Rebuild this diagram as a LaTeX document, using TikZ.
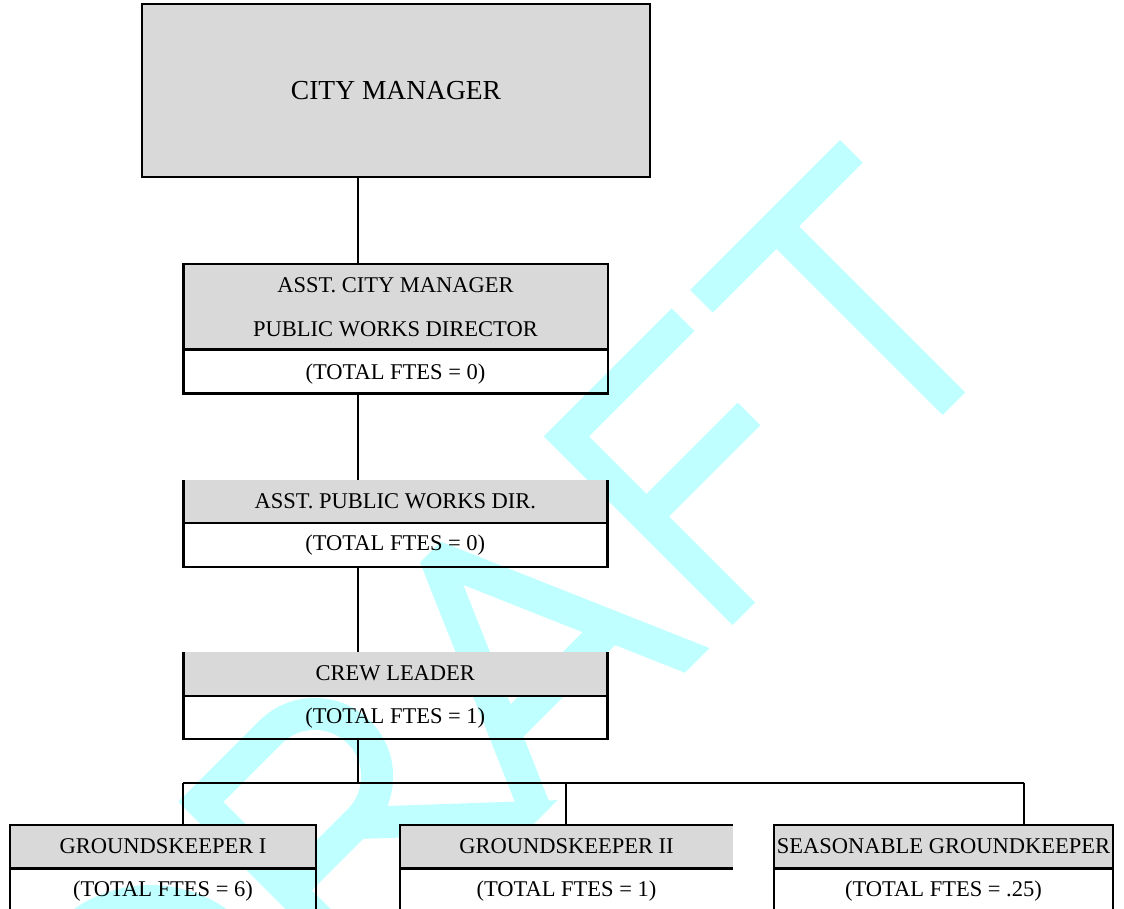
\documentclass[tikz,border=0pt]{standalone}
\usepackage{fontspec}
\setmainfont{Liberation Serif}
\definecolor{wm}{RGB}{192,255,255}
\definecolor{hdr}{RGB}{217,217,217}
\newcommand\orgsmall{\fontsize{22.5pt}{27pt}\selectfont}
\newcommand\orgbig{\fontsize{27.5pt}{33pt}\selectfont}
\tikzset{
  cell/.style={rectangle, inner sep=0pt, outer sep=0pt},
  hdrcell/.style={cell, fill=hdr},
  lbl/.style={inner sep=0pt, font=\orgsmall, text height=14.9pt, text depth=0pt},
  biglbl/.style={inner sep=0pt, font=\orgbig, text height=18.2pt, text depth=0pt},
  border/.style={line width=2.4pt, draw=black},
  link/.style={line width=2pt, draw=black},
  wmstroke/.style={draw=wm, line width=32pt, line cap=butt, line join=miter},
}
\begin{document}
\begin{tikzpicture}[x=1pt,y=-1pt]
\useasboundingbox (0,0) rectangle (1124,909);
\clip (0,0) rectangle (1124,909);
% ---------- watermark DRAFT ----------
\begin{scope}[x={(0.7071pt,0.7071pt)}, y={(-0.7071pt,0.7071pt)}]
  \clip (-900,-960) -- (600,-960) -- (600,-693) -- (-900,-693) -- cycle;
  % D
  \draw[wmstroke] (-760,-709) -- (-614,-709) arc[start angle=90,end angle=-90,radius=117.5] -- (-760,-944) -- cycle;
  % R
  \draw[wmstroke] (-425,-990) -- (-425,-709) -- (-326.5,-709) arc[start angle=90,end angle=-90,radius=62.5] -- (-425,-834);
  \draw[wmstroke] (-330,-834) -- (-162.9,-990);
  % A
  \draw[wmstroke, line join=bevel] (-211,-990) -- (-86,-701) -- (39,-990);
  \draw[wmstroke] (-161.3,-875) -- (-10.7,-875);
  % F
  \draw[wmstroke] (92,-990) -- (92,-709) -- (257,-709);
  \draw[wmstroke] (92,-822.4) -- (237,-822.4);
  % T
  \draw[wmstroke] (283,-709) -- (495,-709);
  \draw[wmstroke] (389,-709) -- (389,-990);
\end{scope}
% ---------- cells ----------
\node[hdrcell, minimum width=508pt, minimum height=173pt] (cm) at (396,90.5) {};
\node[hdrcell, minimum width=424.4pt, minimum height=85.3pt] (h2) at (395.5,306.65) {};
\node[cell, minimum width=424.4pt, minimum height=44pt] (b2) at (395.5,371.3) {};
\node[hdrcell, minimum width=424pt, minimum height=42.7pt] (h3) at (395.3,501.35) {};
\node[cell, minimum width=424pt, minimum height=44pt] (b3) at (395.3,544.7) {};
\node[hdrcell, minimum width=424pt, minimum height=43.4pt] (h4) at (395.3,674) {};
\node[cell, minimum width=424pt, minimum height=43.3pt] (b4) at (395.3,717.35) {};
\node[hdrcell, minimum width=306pt, minimum height=43.3pt] (g1h) at (163,846.65) {};
\node[cell, minimum width=306pt, minimum height=44pt] (g1b) at (163,890.3) {};
\node[hdrcell, minimum width=332.7pt, minimum height=43.3pt] (g2h) at (566.35,846.65) {};
\node[cell, minimum width=332.7pt, minimum height=44pt] (g2b) at (566.35,890.3) {};
\node[hdrcell, minimum width=338.7pt, minimum height=43.3pt] (g3h) at (943.35,846.65) {};
\node[cell, minimum width=338.7pt, minimum height=44pt] (g3b) at (943.35,890.3) {};
% ---------- borders ----------
\draw[border] (cm.north west) rectangle (cm.south east);
\draw[border] (h2.north west) rectangle (b2.south east);
\draw[border] (h2.south west) -- (h2.south east);
\draw[border] (h3.north west) -- (b3.south west) -- (b3.south east) -- (h3.north east);
\draw[border] (h3.south west) -- (h3.south east);
\draw[border] (h4.north west) -- (b4.south west) -- (b4.south east) -- (h4.north east);
\draw[border] (h4.south west) -- (h4.south east);
\draw[border] (g1b.south west) -- (g1h.north west) -- (g1h.north east) -- (g1b.south east);
\draw[border] (g1h.south west) -- (g1h.south east);
\draw[border] (g2b.south west) -- (g2h.north west) -- (g2h.north east);
\draw[border] (g2h.south west) -- (g2h.south east);
\draw[border] (g3b.south west) -- (g3h.north west) -- (g3h.north east) -- (g3b.south east);
\draw[border] (g3h.south west) -- (g3h.south east);
% ---------- connectors ----------
\coordinate (spine) at (358.3,0);
\coordinate (bus) at (358.3,782.5);
\coordinate (d1) at (183.3,782.5);
\coordinate (d2) at (566,782.5);
\coordinate (d3) at (1024,782.5);
\draw[link] (cm.south -| spine) -- (h2.north -| spine);
\draw[link] (b2.south -| spine) -- (h3.north -| spine);
\draw[link] (b3.south -| spine) -- (h4.north -| spine);
\draw[link] (b4.south -| spine) -- (bus);
\draw[link] (d1) -- (d3);
\draw[link] (d1) -- (d1 |- g1h.north);
\draw[link] (d2) -- (d2 |- g2h.north);
\draw[link] (d3) -- (d3 |- g3h.north);
% ---------- texts ----------
\node[biglbl] (cmt) at (396,90.8) {CITY MANAGER};
\node[lbl] (t2a) at (395.5,285.5) {ASST. CITY MANAGER};
\node[lbl] (t2b) at (395.5,328.8) {PUBLIC WORKS DIRECTOR};
\node[lbl] (t2c) at (395.5,372.5) {(TOTAL FTES = 0)};
\node[lbl] (t3a) at (395.3,500.9) {ASST. PUBLIC WORKS DIR.};
\node[lbl] (t3b) at (395.3,542.6) {(TOTAL FTES = 0)};
\node[lbl] (t4a) at (395.3,673.2) {CREW LEADER};
\node[lbl] (t4b) at (395.3,715.9) {(TOTAL FTES = 1)};
\node[lbl] (g1t) at (163,846.5) {GROUNDSKEEPER I};
\node[lbl] (g1f) at (163,889.2) {(TOTAL FTES = 6)};
\node[lbl] (g2t) at (566.5,846.5) {GROUNDSKEEPER II};
\node[lbl] (g2f) at (566.5,889.5) {(TOTAL FTES = 1)};
\node[lbl] (g3t) at (943.5,846.5) {SEASONABLE GROUNDKEEPER};
\node[lbl] (g3f) at (943.5,889.5) {(TOTAL FTES = .25)};
\end{tikzpicture}
\end{document}
